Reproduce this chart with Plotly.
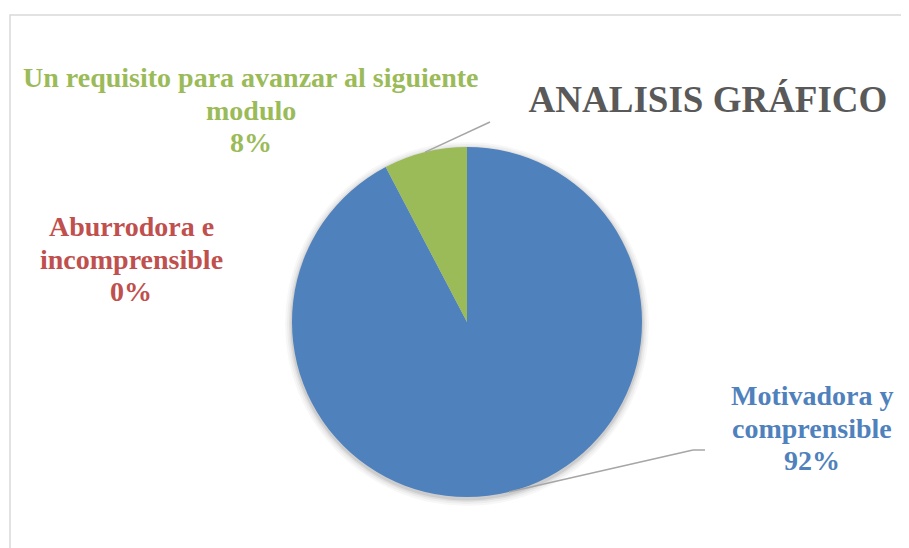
import math
import plotly.graph_objects as go

labels = ["Motivadora y comprensible", "Aburrodora e incomprensible",
          "Un requisito para avanzar al siguiente modulo"]
label_lines = [["Motivadora y", "comprensible"], ["Aburrodora e", "incomprensible"],
               ["Un requisito para avanzar al siguiente", "modulo"]]
values = [12, 0, 1]   # answers -> 92%, 0%, 8%
colors = ["#4F81BD", "#C0504D", "#9BBB59"]

W, H = 909, 548
OFF = 8  # page body margin, so positions below are in screenshot pixels
cx, cy, r = 467, 322, 175
line_gap = 32.5

# centre (px) of each label block
label_pos = [(812, 428), (131, 259), (251, 110)]
# leader line end (px); None = no line, and whether it has a short flat tail
leader_end = [(693, 450), None, (490, 122)]
leader_tail = [True, False, False]


def px(x, y):
    return (x - OFF) / W, 1 - (y - OFF) / H


fig = go.Figure()

# soft shadow round the pie
for k, op in [(7, 0.03), (5, 0.04), (3, 0.06), (1.5, 0.08)]:
    x0, y1 = px(cx - r - k, cy - r - k + 2)
    x1, y0 = px(cx + r + k, cy + r + k + 2)
    fig.add_shape(type="circle", xref="paper", yref="paper", x0=x0, y0=y0, x1=x1, y1=y1,
                  fillcolor=f"rgba(0,0,0,{op})", line=dict(width=0), layer="below")

dx0, dy1 = px(cx - r, cy - r)
dx1, dy0 = px(cx + r, cy + r)
fig.add_trace(go.Pie(
    labels=labels,
    values=values,
    sort=False,
    direction="clockwise",
    rotation=0,
    marker=dict(colors=colors, line=dict(width=0)),
    textinfo="none",
    hoverinfo="label+percent",
    showlegend=False,
    domain=dict(x=[dx0, dx1], y=[dy0, dy1]),
))

total = sum(values)
acc = 0
for lines, v, col, pos, end, tail in zip(label_lines, values, colors, label_pos, leader_end, leader_tail):
    mid = (acc + v / 2) / total * 2 * math.pi
    acc += v
    rows = lines + [f"{v / total:.0%}"]
    for i, row in enumerate(rows):
        ax, ay = px(pos[0], pos[1] + (i - (len(rows) - 1) / 2) * line_gap)
        fig.add_annotation(
            x=ax, y=ay, xref="paper", yref="paper", xanchor="center", yanchor="middle",
            text=f"<b>{row}</b>", showarrow=False,
            font=dict(family="Liberation Serif", size=28, color=col),
        )
    if end is not None:
        sx = cx + r * math.sin(mid)
        sy = cy - r * math.cos(mid)
        x0, y0 = px(sx, sy)
        x1, y1 = px(*end)
        fig.add_shape(type="line", xref="paper", yref="paper", x0=x0, y0=y0, x1=x1, y1=y1,
                      line=dict(color="#A6A6A6", width=1.5))
        if tail:
            fig.add_shape(type="line", xref="paper", yref="paper", x0=x1, y0=y1, x1=x1 + 12 / W, y1=y1,
                          line=dict(color="#A6A6A6", width=1.5))

# chart border
bx0, by1 = px(10, 15)
fig.add_shape(type="rect", xref="paper", yref="paper", x0=bx0, y0=-0.05, x1=1.05, y1=by1,
              line=dict(color="#D9D9D9", width=1.5))

tx, ty = px(708, 99)
fig.update_layout(
    width=W, height=H,
    margin=dict(l=0, r=0, t=0, b=0),
    paper_bgcolor="white",
    title=dict(text="<b>ANALISIS GRÁFICO</b>", x=tx, xanchor="center", y=ty, yanchor="middle",
               font=dict(family="Liberation Serif", size=37, color="#595959")),
)

fig.write_html("out.html")
